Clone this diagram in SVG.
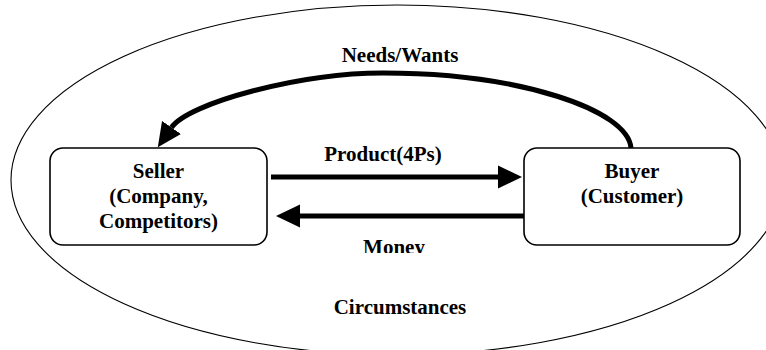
<svg xmlns="http://www.w3.org/2000/svg" width="766" height="350" viewBox="0 0 766 350">
<style>
.lbl{font-family:"Liberation Serif","Times New Roman",serif;font-weight:bold;font-size:21px;fill:#000;text-anchor:middle}
.box{fill:#fff;stroke:#000;stroke-width:1.6}
.con{fill:none;stroke:#000;stroke-width:5}
</style>
<defs>
<marker id="ah" markerUnits="userSpaceOnUse" markerWidth="24" markerHeight="24" viewBox="0 0 24 24" refX="0" refY="12" orient="auto">
<path d="M0,0.5 L24,12 L0,23.5 z" fill="#000"/>
</marker>
<clipPath id="moneyclip"><rect x="300" y="230" width="200" height="23"/></clipPath>
</defs>
<rect width="766" height="350" fill="#fff"/>
<g id="circumstances">
<ellipse cx="397" cy="180" rx="386" ry="175" fill="none" stroke="#000" stroke-width="1.1"/>
<text class="lbl" x="400" y="314">Circumstances</text>
</g>
<g id="connectors">
<path class="con" d="M631,148 C628,110 520,73 383,73 C300,73 188.6,102.9 171.5,127.5" marker-end="url(#ah)"/>
<text class="lbl" x="400" y="62">Needs/Wants</text>
<path class="con" d="M271,177 L498,177" marker-end="url(#ah)"/>
<text class="lbl" x="383" y="161">Product(4Ps)</text>
<path class="con" d="M527,216 L300,216" marker-end="url(#ah)"/>
<text class="lbl" x="394" y="254" clip-path="url(#moneyclip)">Money</text>
</g>
<g id="seller">
<rect class="box" x="50" y="148" width="217" height="97" rx="13"/>
<text class="lbl" x="158.5" y="178">Seller</text>
<text class="lbl" x="158.5" y="203">(Company,</text>
<text class="lbl" x="158.5" y="228">Competitors)</text>
</g>
<g id="buyer">
<rect class="box" x="524" y="148" width="216" height="97" rx="13"/>
<text class="lbl" x="632" y="178">Buyer</text>
<text class="lbl" x="632" y="203">(Customer)</text>
</g>
</svg>
